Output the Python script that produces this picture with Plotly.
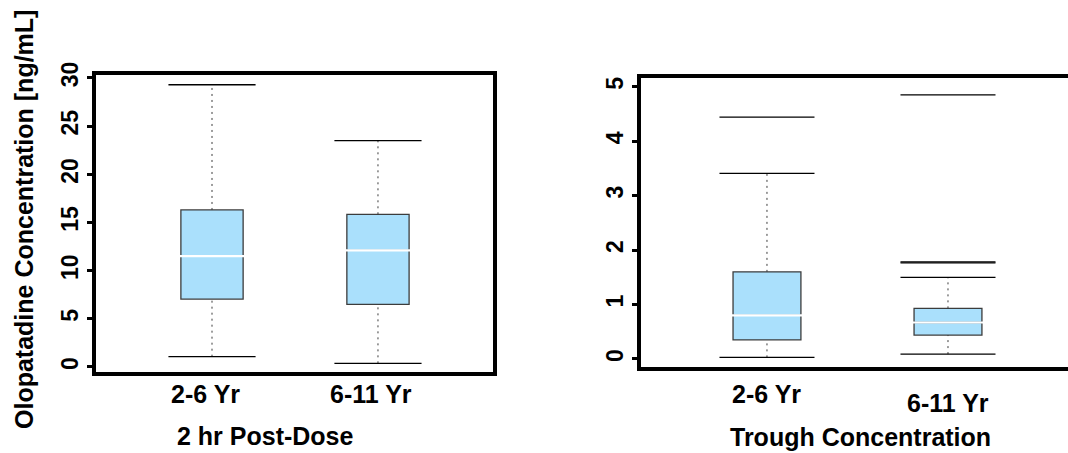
import plotly.graph_objects as go

# ---------------- data ----------------
groups = ["2-6 Yr", "6-11 Yr"]

post_q1 = [7.05, 6.5]
post_median = [11.5, 12.1]
post_q3 = [16.3, 15.85]
post_lower = [1.07, 0.38]
post_upper = [29.3, 23.5]

trough_q1 = [0.35, 0.44]
trough_median = [0.80, 0.67]
trough_q3 = [1.60, 0.93]
trough_lower = [0.03, 0.09]
trough_upper = [3.41, 1.50]
trough_outlier_group = [0, 1, 1, 1]
trough_outlier_value = [4.44, 4.85, 1.765, 1.785]

post_yticks = [0, 5, 10, 15, 20, 25, 30]
trough_yticks = [0, 1, 2, 3, 4, 5]

panel_titles = ["2 hr Post-Dose", "Trough Concentration"]
y_title = "Olopatadine Concentration [ng/mL]"

# ---------------- layout constants ----------------
W, H = 1068, 453
FONT = "Liberation Sans, Arial, sans-serif"
BOX_W = 0.375
FILL = "rgb(170,224,252)"
EDGE = "rgb(60,60,60)"

L_dom = (96, 493)
L_xr = (-0.699, 1.693)
L_ydom = (75, 372)
L_yr = (-0.52, 30.31)

R_dom = (641, 1068)
R_xr = (-0.696, 1.663)
R_ydom = (78, 367)
R_yr = (-0.147, 5.16)

pos = list(range(len(groups)))


def px_per_unit(dom, rng):
    return (dom[1] - dom[0]) / (rng[1] - rng[0])


fig = go.Figure()


def add_panel(xa, ya, q1, med, q3, lo, hi, dom, xr):
    bw_px = BOX_W * px_per_unit(dom, xr)
    # solid box (no whiskers)
    fig.add_trace(go.Box(
        x=pos, q1=q1, median=med, q3=q3, lowerfence=q1, upperfence=q3,
        width=BOX_W, whiskerwidth=0, boxpoints=False,
        fillcolor=FILL, line=dict(color=EDGE, width=1.3),
        xaxis=xa, yaxis=ya, showlegend=False, hoverinfo="skip"))
    # dotted whiskers
    wx, wy = [], []
    for p, a, b, c, d in zip(pos, lo, q1, q3, hi):
        wx += [p, p, None, p, p, None]
        wy += [a, b, None, c, d, None]
    fig.add_trace(go.Scatter(
        x=wx, y=wy, mode="lines",
        line=dict(color=EDGE, width=1, dash="2px,4px"),
        xaxis=xa, yaxis=ya, showlegend=False, hoverinfo="skip"))
    # whisker caps
    fig.add_trace(go.Scatter(
        x=pos + pos, y=list(lo) + list(hi), mode="markers",
        marker=dict(symbol="line-ew", size=bw_px,
                    line=dict(color="black", width=1.3)),
        xaxis=xa, yaxis=ya, showlegend=False, hoverinfo="skip"))
    # white median
    fig.add_trace(go.Scatter(
        x=pos, y=med, mode="markers",
        marker=dict(symbol="line-ew", size=bw_px - 3,
                    line=dict(color="white", width=2.2)),
        xaxis=xa, yaxis=ya, showlegend=False, hoverinfo="skip"))
    return bw_px


add_panel("x", "y", post_q1, post_median, post_q3, post_lower, post_upper, L_dom, L_xr)
bw_r = add_panel("x2", "y2", trough_q1, trough_median, trough_q3, trough_lower, trough_upper, R_dom, R_xr)

# outliers drawn as horizontal bars
fig.add_trace(go.Scatter(
    x=trough_outlier_group, y=trough_outlier_value, mode="markers",
    marker=dict(symbol="line-ew", size=bw_r,
                line=dict(color="black", width=1.3)),
    xaxis="x2", yaxis="y2", showlegend=False, hoverinfo="skip"))


def xdom(d):
    return [d[0] / W, d[1] / W]


def ydom(d):
    return [(H - d[1]) / H, (H - d[0]) / H]


xbase = dict(showline=True, linewidth=4, linecolor="black", mirror=True,
             showticklabels=False, ticks="", showgrid=False, zeroline=False,
             fixedrange=True, automargin=False)
ybase = dict(showline=True, linewidth=4, linecolor="black",
             ticks="outside", ticklen=5, tickwidth=3, tickcolor="black",
             tickangle=-90, showgrid=False, zeroline=False, automargin=False,
             tickfont=dict(family=FONT, size=23, color="black", weight="bold"))

fig.update_layout(
    width=W, height=H,
    margin=dict(l=0, r=0, t=0, b=0, autoexpand=False),
    paper_bgcolor="white", plot_bgcolor="white",
    boxmode="overlay",
    xaxis=dict(xbase, domain=xdom(L_dom), range=list(L_xr), anchor="y"),
    yaxis=dict(ybase, domain=ydom(L_ydom), range=list(L_yr), anchor="x",
               mirror=True, tickvals=post_yticks),
    xaxis2=dict(xbase, domain=xdom(R_dom), range=list(R_xr), anchor="y2"),
    yaxis2=dict(ybase, domain=ydom(R_ydom), range=list(R_yr), anchor="x2",
                mirror=False, tickvals=trough_yticks),
)

ann = []
lab_font = dict(family=FONT, size=25, color="black", weight="bold")
# left x labels
for i, g in enumerate(groups):
    ann.append(dict(x=pos[i], y=(H - 394) / H, xref="x", yref="paper",
                    text=g, showarrow=False, font=lab_font,
                    xanchor="center", yanchor="middle", xshift=-7))
# right x labels (staggered)
right_y = [394, 403]
for i, g in enumerate(groups):
    ann.append(dict(x=pos[i], y=(H - right_y[i]) / H, xref="x2", yref="paper",
                    text=g, showarrow=False, font=lab_font,
                    xanchor="center", yanchor="middle"))
# panel titles
ann.append(dict(x=265 / W, y=(H - 436) / H,
                xref="paper", yref="paper", text=panel_titles[0],
                showarrow=False, font=lab_font,
                xanchor="center", yanchor="middle"))
ann.append(dict(x=860 / W, y=(H - 437) / H,
                xref="paper", yref="paper", text=panel_titles[1],
                showarrow=False, font=lab_font,
                xanchor="center", yanchor="middle"))
# y title
ann.append(dict(x=24 / W, y=(H - 220) / H, xref="paper", yref="paper",
                text=y_title, textangle=-90, showarrow=False,
                font=lab_font,
                xanchor="center", yanchor="middle"))
fig.update_layout(annotations=ann)

fig.write_html("out.html")
